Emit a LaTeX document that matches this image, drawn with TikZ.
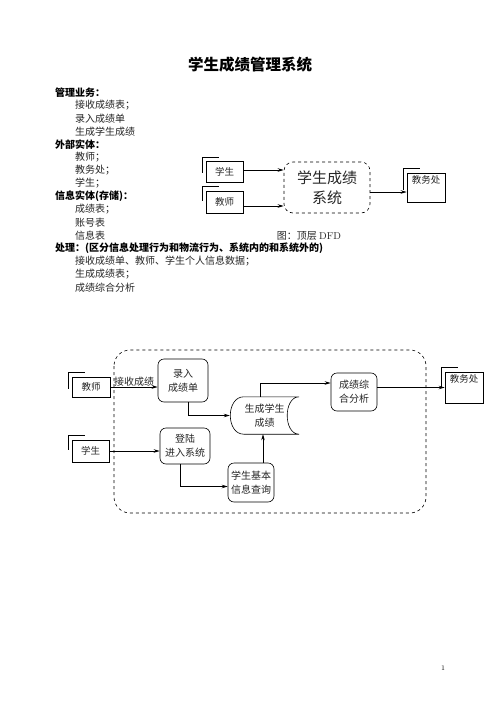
\documentclass[tikz,border=0pt]{standalone}
\usepackage{fontspec}
\newfontfamily\cjk{Noto Sans CJK SC}
\usetikzlibrary{arrows.meta,calc}
\begin{document}
\begin{tikzpicture}[x=1pt,y=-1pt,
  every node/.style={font=\cjk\fontsize{10}{14}\selectfont, inner sep=1pt, text=black!85},
  txt/.style={anchor=west, inner sep=0pt},
  hd/.style={anchor=west, inner sep=0pt, text=black, font=\cjk\bfseries\fontsize{10}{12}\selectfont},
  ent/.style={draw, line width=0.6pt, inner sep=0pt, font=\cjk\fontsize{9.5}{11}\selectfont},
  proc/.style={draw, line width=0.6pt, rounded corners=6pt, inner sep=0pt, align=center},
  lmark/.style={line width=0.6pt},
  arr/.style={-{Stealth[length=6pt,width=3.5pt]}, line width=0.8pt},
  toplab/.style={font=\cjk\fontsize{9.5}{11}\selectfont, anchor=north, inner sep=2.5pt}
]
\useasboundingbox (0,0) rectangle (500,706);
\fill[white] (0,0) rectangle (500,706);

% title
\node[text=black, font=\cjk\bfseries\fontsize{15.5}{18}\selectfont] (title) at (250,65) {学生成绩管理系统};

% left text block
\node[hd] (h1) at (55,92.5) {管理业务：};
\node[txt] (l1) at (75,105.5) {接收成绩表；};
\node[txt] (l2) at (75,118.5) {录入成绩单};
\node[txt] (l3) at (75,131.5) {生成学生成绩};
\node[hd] (h2) at (55,144.5) {外部实体：};
\node[txt] (l4) at (75,157.5) {教师；};
\node[txt] (l5) at (75,170.5) {教务处；};
\node[txt] (l6) at (75,183.5) {学生；};
\node[hd] (h3) at (55,196.5) {信息实体(存储)：};
\node[txt] (l7) at (75,209.5) {成绩表；};
\node[txt] (l8) at (75,222.5) {账号表};
\node[txt] (l9) at (75,235.5) {信息表};
\node[hd] (h4) at (55,248.5) {处理：(区分信息处理行为和物流行为、系统内的和系统外的)};
\node[txt] (l10) at (75,261.5) {接收成绩单、教师、学生个人信息数据；};
\node[txt] (l11) at (75,274.5) {生成成绩表；};
\node[txt] (l12) at (75,287.5) {成绩综合分析};

% top-level DFD
\node[ent, minimum width=37pt, minimum height=21pt] (s1) at (224.5,172) {学生};
\node[ent, minimum width=37pt, minimum height=22pt] (t1) at (224.5,202) {教师};
\node[draw, dashed, line width=0.6pt, rounded corners=9pt, minimum width=86pt, minimum height=51pt,
      align=center, font=\cjk\fontsize{15}{20}\selectfont] (sys) at (327,187.5) {学生成绩\\系统};
\node[ent, minimum width=38pt, minimum height=29pt, label={[toplab]north:教务处}] (j1) at (426,187.5) {};
\node[font=\cjk\fontsize{10}{12}\selectfont] (cap) at (309,235.5) {图：顶层 {\rmfamily DFD}};

\coordinate (a1) at ([yshift=2pt]s1.east);
\coordinate (a2) at ([yshift=-4pt]t1.east);
\coordinate (a3) at ([yshift=-4.5pt]sys.east);
\draw[arr] (a1) -- (a1 -| sys.west);
\draw[arr] (a2) -- (a2 -| sys.west);
\draw[arr] (a3) -- (a3 -| j1.west);

% bottom DFD
\draw[dashed, line width=0.6pt, rounded corners=16pt] (114,350) rectangle (426,513);

\node[ent, minimum width=38pt, minimum height=20pt] (t2) at (91,387) {教师};
\node[ent, minimum width=37pt, minimum height=22pt] (s2) at (90.5,451) {学生};
\node[proc, minimum width=50pt, minimum height=43pt] (lr) at (183,380.5) {录入\\成绩单};
\node[proc, minimum width=50pt, minimum height=36pt] (dl) at (185,446) {登陆\\进入系统};
\node[minimum width=69pt, minimum height=37pt, align=center, inner sep=0pt] (sc) at (264.5,415.5) {生成学生\\成绩};
\draw[line width=0.6pt] ([xshift=14pt]sc.north west) -- (sc.north east)
  .. controls ([xshift=-16pt]sc.north east) and ([xshift=-16pt]sc.south east) .. (sc.south east)
  -- ([xshift=14pt]sc.south west)
  .. controls ([xshift=-4pt]sc.south west) and ([xshift=-4pt]sc.north west) .. ([xshift=14pt]sc.north west);
\node[proc, minimum width=46pt, minimum height=38pt] (zh) at (354,392) {成绩综\\合分析};
\node[proc, minimum width=46pt, minimum height=39pt] (xx) at (251,482.5) {学生基本\\信息查询};
\node[ent, minimum width=38pt, minimum height=31pt, label={[toplab]north:教务处}] (j2) at (464,387.5) {};

% external entity marks
\foreach \n/\h in {s1/16,t1/14,j1/21,t2/16,s2/14,j2/20}
  \draw[lmark] ([shift={(13pt,4pt)}]\n.north west) -| ([shift={(-3pt,4pt-\h pt)}]\n.north west);

% bottom arrows
\coordinate (b1) at ([xshift=5pt]lr.south);
\coordinate (b2) at ([xshift=-5pt]dl.south);
\coordinate (b3) at ([yshift=-4pt]xx.west);
\coordinate (b4) at ([xshift=12pt]xx.north);
\coordinate (b5) at ([xshift=-4.5pt]sc.north);
\coordinate (b6) at ([yshift=9pt]zh.west);
\draw[arr] (t2.east) -- node[above, inner sep=0.5pt, text=black!85] (jslabel) {接收成绩} (t2.east -| lr.west);
\draw[arr] (s2.east) -- (s2.east -| dl.west);
\draw[arr] (b1) |- (sc.west);
\draw[arr] (b2) |- (b3);
\draw[arr] (b4) -- (b4 |- sc.south);
\draw[arr] (b5) |- (b6);
\draw[arr] (zh.east |- j2.west) -- (j2.west);

% page number
\node[font=\rmfamily\fontsize{7}{8}\selectfont, text=black] (pg) at (443,668) {1};
\end{tikzpicture}
\end{document}
